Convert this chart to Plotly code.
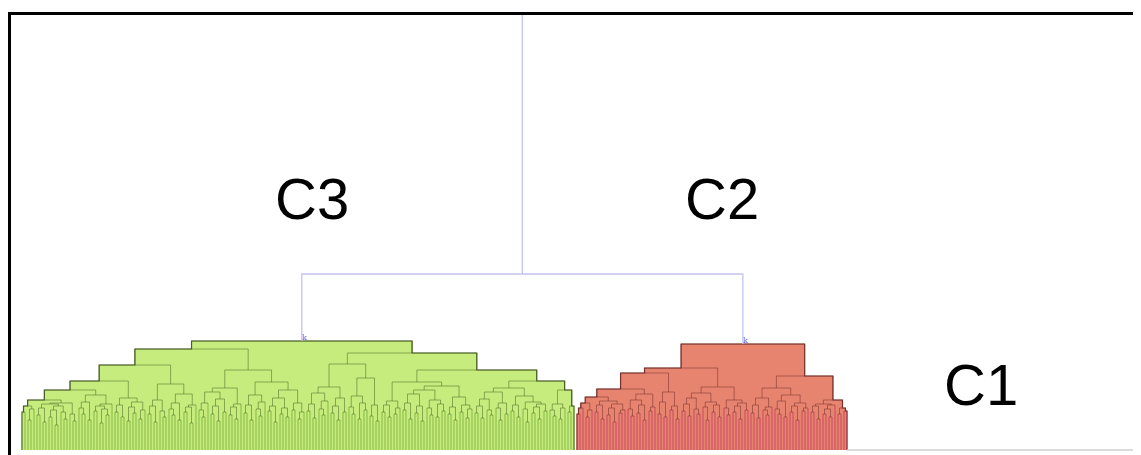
import numpy as np
import plotly.graph_objects as go

# ---------------- data ----------------
# Dendrogram of each cluster, given as the merge height between each pair of
# adjacent leaves (leaf order left -> right).  The tree is rebuilt from them.
C3_GAPS = [
    38, 44, 30, 41, 50,
    35, 42, 28, 46, 33, 40, 25, 44, 38, 31, 47, 36, 29, 60,
    42, 36, 48, 30, 55, 39, 44, 27, 41, 35, 46, 69,
    38, 45, 33, 52, 29, 43, 37, 48, 31, 40, 85,
    36, 44, 28, 50, 39, 33, 66, 41, 35, 47, 30, 56, 38, 43, 27, 45, 101,
    40, 33, 47, 58, 36, 44, 29, 51, 38, 62, 35, 43, 31, 46, 80,
    37, 45, 30, 55, 41, 34, 48, 68, 39, 44, 28, 52, 36, 42, 33, 60, 40, 47, 31, 38, 109,
    39, 46, 32, 57, 41, 35, 49, 63, 37, 44, 30, 52, 38, 86,
    43, 36, 54, 31, 47, 40, 72, 34, 45, 29, 97,
    38, 45, 33, 49, 36, 42, 68,
    40, 47, 31, 56, 37, 44, 29, 60, 42, 35, 50, 33, 46, 39, 64, 36, 43, 30, 53, 38, 45, 32, 41, 80,
    37, 44, 32, 51, 40, 35, 58, 42, 30, 47, 36, 62, 39, 45, 33, 54, 41, 28, 48, 37, 43, 31, 46, 39, 69,
    40, 34, 46, 31, 42, 60,
    38, 44,
]
C2_GAPS = [
    36, 42, 47, 33, 40, 53,
    38, 45, 31, 49, 35, 42, 28, 46, 37, 40, 61,
    41, 34, 50, 37, 45, 30, 56, 39, 43, 77,
    36, 48, 33, 58, 40, 44, 31, 82,
    39, 46, 34, 52, 41, 36, 57, 43, 30, 48, 38, 45, 33, 63,
    42, 35, 50, 38, 44, 31, 47, 40, 106,
    37, 45, 32, 52, 40, 35, 43, 62,
    41, 36, 49, 33, 55, 38, 44, 30, 47, 39, 42, 74,
    38, 44, 31, 46, 36, 41, 33, 45, 50,
    36, 42, 39,
]
ROOT_HEIGHT = 176

CLUSTER_NAMES = ["C3", "C2", "C1"]
LABEL_X = [96.7, 233.3, 319.7]
LABEL_Y = [252, 252, 66]

# ---------------- styling ----------------
STYLE = {
    "C3": dict(fill="#c6ec7e", link="rgba(70,95,30,0.5)", leaf="rgba(125,175,60,0.85)", edge="#4d5c2c"),
    "C2": dict(fill="#e6846f", link="rgba(115,40,40,0.5)", leaf="rgba(195,60,95,0.8)", edge="#7b3a30"),
}


def build(gaps, offset):
    link_x, link_y, leaf_x, leaf_y, rects = [], [], [], [], []

    def rec(lo, hi):
        if lo == hi:
            return offset + lo, 0.0
        k = lo + int(np.argmax(gaps[lo:hi]))
        xl, hl = rec(lo, k)
        xr, hr = rec(k + 1, hi)
        h = gaps[k]
        for x, hc, is_leaf in ((xl, hl, lo == k), (xr, hr, k + 1 == hi)):
            if is_leaf:
                leaf_x.extend([x, x, None]); leaf_y.extend([hc, h, None])
            else:
                link_x.extend([x, x, None]); link_y.extend([hc, h, None])
        link_x.extend([xl, xr, None]); link_y.extend([h, h, None])
        rects.append((xl, xr, h))
        return (xl + xr) / 2, h

    center, top = rec(0, len(gaps))
    # silhouette = union of link rectangles
    xs = sorted(set([r[0] for r in rects] + [r[1] for r in rects]))
    px, py = [xs[0]], [0]
    for a, b in zip(xs[:-1], xs[1:]):
        H = max([r[2] for r in rects if r[0] <= a and r[1] >= b] + [0])
        px.extend([a, b]); py.extend([H, H])
    px.append(xs[-1]); py.append(0)
    return dict(center=center, top=top, link=(link_x, link_y), leaf=(leaf_x, leaf_y), sil=(px, py),
                first=offset, last=offset + len(gaps))


c3 = build(C3_GAPS, 0)
c2 = build(C2_GAPS, len(C3_GAPS) + 1)

fig = go.Figure()

for name, d in (("C3", c3), ("C2", c2)):
    st = STYLE[name]
    fig.add_trace(go.Scatter(x=d["sil"][0], y=d["sil"][1], mode="lines", fill="toself",
                             fillcolor=st["fill"], line=dict(color=st["edge"], width=1.2),
                             hoverinfo="skip", showlegend=False))
    fig.add_trace(go.Scatter(x=d["leaf"][0], y=d["leaf"][1], mode="lines",
                             line=dict(color=st["leaf"], width=1), hoverinfo="skip", showlegend=False))
    fig.add_trace(go.Scatter(x=d["link"][0], y=d["link"][1], mode="lines",
                             line=dict(color=st["link"], width=1), hoverinfo="skip", showlegend=False))

# root link joining C3 and C2, continuing upward to C1's merge (off the top)
root_mid = (c3["center"] + c2["center"]) / 2
fig.add_trace(go.Scatter(
    x=[c3["center"], c3["center"], c2["center"], c2["center"], None, root_mid, root_mid],
    y=[c3["top"], ROOT_HEIGHT, ROOT_HEIGHT, c2["top"], None, ROOT_HEIGHT, 1000],
    mode="lines", line=dict(color="#c4c4ec", width=1.3), hoverinfo="skip", showlegend=False))

# baseline under the (empty) right part
X_MAX = 373
fig.add_trace(go.Scatter(x=[c2["last"], X_MAX], y=[0, 0], mode="lines",
                         line=dict(color="#cfcfcf", width=1.5), hoverinfo="skip", showlegend=False))

# small node tags at the cluster tops
for d in (c3, c2):
    fig.add_annotation(x=d["center"] + 0.8, y=d["top"] + 4, text="k", showarrow=False,
                       font=dict(family="DejaVu Serif", size=8, color="#6b6be6"))

for name, x, y in zip(CLUSTER_NAMES, LABEL_X, LABEL_Y):
    fig.add_annotation(x=x, y=y, text=name, showarrow=False,
                       font=dict(family="Liberation Sans, Arial", size=58, color="black"))

# the page body adds an 8 px margin, so the figure is placed at (8, 8)
fig.update_layout(
    width=1133, height=447,
    margin=dict(l=3, r=0, t=7, b=0, autoexpand=False),
    paper_bgcolor="white", plot_bgcolor="white",
    xaxis=dict(range=[-11 / 3, X_MAX], side="top", showline=True, linecolor="black", linewidth=3,
               showgrid=False, zeroline=False, showticklabels=False, ticks=""),
    yaxis=dict(range=[-5, 435], showline=True, linecolor="black", linewidth=3,
               showgrid=False, zeroline=False, showticklabels=False, ticks=""),
)

fig.write_html("out.html", config={"responsive": False})
